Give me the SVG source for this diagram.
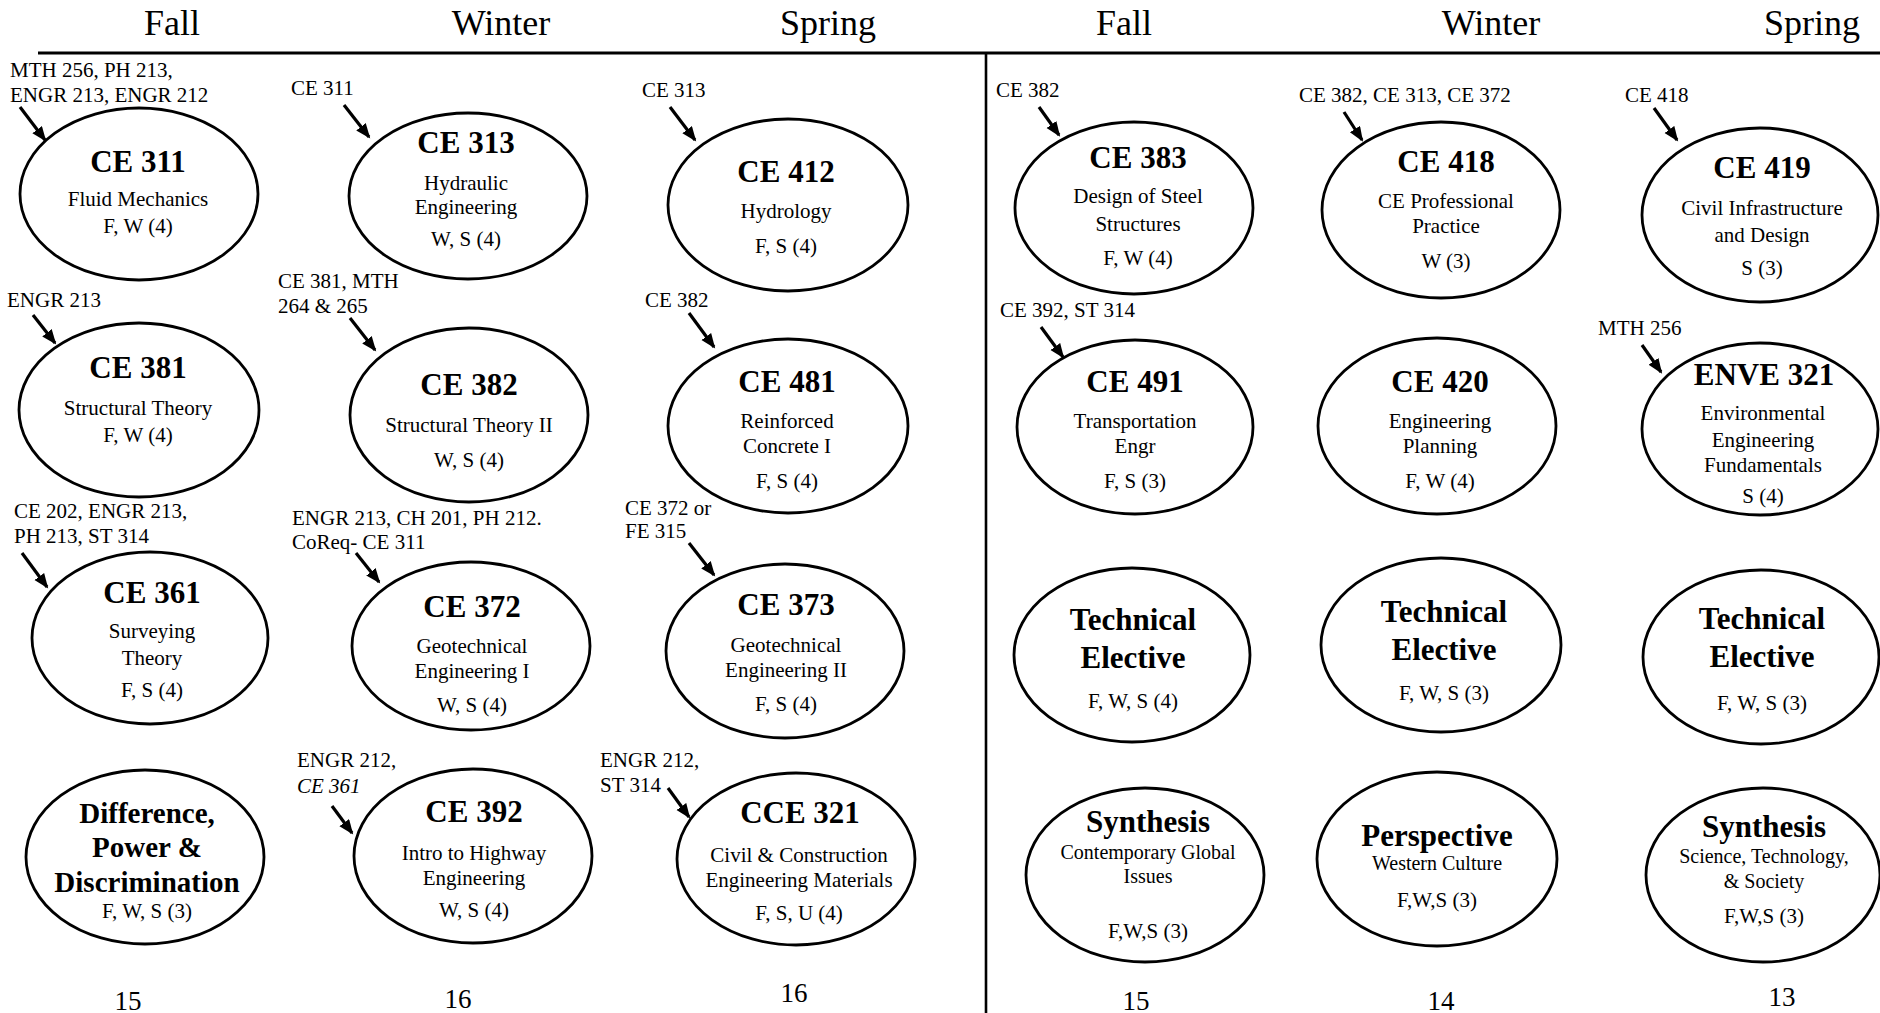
<svg xmlns="http://www.w3.org/2000/svg" width="1880" height="1013" viewBox="0 0 1880 1013">
<style>
text{font-family:"Liberation Serif","Times New Roman",serif;fill:#000}
.h{font-size:36px;text-anchor:middle}
.c{font-size:31px;font-weight:bold;text-anchor:middle}
.d{font-size:29px;font-weight:bold;text-anchor:middle}
.b{font-size:21px;text-anchor:middle}
.s{font-size:20px;text-anchor:middle}
.p{font-size:21px}
.n{font-size:27px;text-anchor:middle}
ellipse{fill:#fff;stroke:#000;stroke-width:2.8}
.a{stroke:#000;stroke-width:3.2;fill:none;marker-end:url(#ah)}
.rule{stroke:#000;stroke-width:3}
</style>
<defs>
<marker id="ah" markerUnits="userSpaceOnUse" markerWidth="16" markerHeight="14" refX="13" refY="6" orient="auto">
<path d="M0,0 L15,6 L0,12 z" fill="#000"/>
</marker>
</defs>
<rect width="1880" height="1013" fill="#fff"/>

<g id="frame">
<line class="rule" x1="38" y1="53" x2="1880" y2="53"/>
<line x1="986" y1="53" x2="986" y2="1013" stroke="#000" stroke-width="2.6"/>
<text class="h" x="172" y="35">Fall</text>
<text class="h" x="501" y="35">Winter</text>
<text class="h" x="828" y="35">Spring</text>
<text class="h" x="1124" y="35">Fall</text>
<text class="h" x="1491" y="35">Winter</text>
<text class="h" x="1812" y="35">Spring</text>
<text class="n" x="128" y="1010">15</text>
<text class="n" x="458" y="1008">16</text>
<text class="n" x="794" y="1002">16</text>
<text class="n" x="1136" y="1010">15</text>
<text class="n" x="1441" y="1010">14</text>
<text class="n" x="1782" y="1006">13</text>
</g>

<g id="prereqs">
<text class="p" x="10" y="77">MTH 256, PH 213,</text>
<text class="p" x="10" y="102">ENGR 213, ENGR 212</text>
<text class="p" x="291" y="95">CE 311</text>
<text class="p" x="642" y="97">CE 313</text>
<text class="p" x="7" y="307">ENGR 213</text>
<text class="p" x="278" y="288">CE 381, MTH</text>
<text class="p" x="278" y="313">264 &amp; 265</text>
<text class="p" x="645" y="307">CE 382</text>
<text class="p" x="14" y="518">CE 202, ENGR 213,</text>
<text class="p" x="14" y="543">PH 213, ST 314</text>
<text class="p" x="292" y="525">ENGR 213, CH 201, PH 212.</text>
<text class="p" x="292" y="549">CoReq- CE 311</text>
<text class="p" x="625" y="515">CE 372 or</text>
<text class="p" x="625" y="538">FE 315</text>
<text class="p" x="297" y="767">ENGR 212,</text>
<text class="p" x="297" y="793" font-style="italic">CE 361</text>
<text class="p" x="600" y="767">ENGR 212,</text>
<text class="p" x="600" y="792">ST 314</text>
<text class="p" x="996" y="97">CE 382</text>
<text class="p" x="1299" y="102">CE 382, CE 313, CE 372</text>
<text class="p" x="1625" y="102">CE 418</text>
<text class="p" x="1000" y="317">CE 392, ST 314</text>
<text class="p" x="1598" y="335">MTH 256</text>
</g>

<g id="connectors">
<line class="a" x1="20" y1="107" x2="45" y2="140"/>
<line class="a" x1="33" y1="315" x2="55" y2="343"/>
<line class="a" x1="22" y1="553" x2="47" y2="587"/>
<line class="a" x1="344" y1="105" x2="369" y2="137"/>
<line class="a" x1="350" y1="318" x2="375" y2="350"/>
<line class="a" x1="356" y1="553" x2="379" y2="582"/>
<line class="a" x1="332" y1="806" x2="352" y2="833"/>
<line class="a" x1="670" y1="107" x2="695" y2="140"/>
<line class="a" x1="689" y1="313" x2="714" y2="347"/>
<line class="a" x1="689" y1="543" x2="714" y2="575"/>
<line class="a" x1="668" y1="788" x2="689" y2="817"/>
<line class="a" x1="1039" y1="107" x2="1059" y2="135"/>
<line class="a" x1="1344" y1="112" x2="1362" y2="140"/>
<line class="a" x1="1654" y1="108" x2="1677" y2="140"/>
<line class="a" x1="1041" y1="327" x2="1063" y2="357"/>
<line class="a" x1="1642" y1="345" x2="1661" y2="372"/>
</g>

<g id="ce311"><ellipse cx="139" cy="194" rx="119" ry="86"/>
<text class="c" x="138" y="172">CE 311</text><text class="b" x="138" y="206">Fluid Mechanics</text><text class="b" x="138" y="233">F, W (4)</text></g>
<g id="ce381"><ellipse cx="139" cy="410" rx="120" ry="87"/>
<text class="c" x="138" y="378">CE 381</text><text class="b" x="138" y="415">Structural Theory</text><text class="b" x="138" y="442">F, W (4)</text></g>
<g id="ce361"><ellipse cx="150" cy="638" rx="118" ry="86"/>
<text class="c" x="152" y="603">CE 361</text><text class="b" x="152" y="638">Surveying</text><text class="b" x="152" y="665">Theory</text><text class="b" x="152" y="697">F, S (4)</text></g>
<g id="dpd"><ellipse cx="145" cy="857" rx="119" ry="87"/>
<text class="d" x="147" y="823">Difference,</text><text class="d" x="147" y="857">Power &amp;</text><text class="d" x="147" y="892">Discrimination</text><text class="b" x="147" y="918">F, W, S (3)</text></g>

<g id="ce313"><ellipse cx="468" cy="196" rx="119" ry="83"/>
<text class="c" x="466" y="153">CE 313</text><text class="b" x="466" y="190">Hydraulic</text><text class="b" x="466" y="214">Engineering</text><text class="b" x="466" y="246">W, S (4)</text></g>
<g id="ce382"><ellipse cx="469" cy="415" rx="119" ry="87"/>
<text class="c" x="469" y="395">CE 382</text><text class="b" x="469" y="432">Structural Theory II</text><text class="b" x="469" y="467">W, S (4)</text></g>
<g id="ce372"><ellipse cx="471" cy="646" rx="119" ry="84"/>
<text class="c" x="472" y="617">CE 372</text><text class="b" x="472" y="653">Geotechnical</text><text class="b" x="472" y="678">Engineering I</text><text class="b" x="472" y="712">W, S (4)</text></g>
<g id="ce392"><ellipse cx="473" cy="856" rx="119" ry="87"/>
<text class="c" x="474" y="822">CE 392</text><text class="b" x="474" y="860">Intro to Highway</text><text class="b" x="474" y="885">Engineering</text><text class="b" x="474" y="917">W, S (4)</text></g>

<g id="ce412"><ellipse cx="788" cy="205" rx="120" ry="86"/>
<text class="c" x="786" y="182">CE 412</text><text class="b" x="786" y="218">Hydrology</text><text class="b" x="786" y="253">F, S (4)</text></g>
<g id="ce481"><ellipse cx="788" cy="426" rx="120" ry="87"/>
<text class="c" x="787" y="392">CE 481</text><text class="b" x="787" y="428">Reinforced</text><text class="b" x="787" y="453">Concrete I</text><text class="b" x="787" y="488">F, S (4)</text></g>
<g id="ce373"><ellipse cx="785" cy="651" rx="119" ry="87"/>
<text class="c" x="786" y="615">CE 373</text><text class="b" x="786" y="652">Geotechnical</text><text class="b" x="786" y="677">Engineering II</text><text class="b" x="786" y="711">F, S (4)</text></g>
<g id="cce321"><ellipse cx="796" cy="859" rx="119" ry="86"/>
<text class="c" x="800" y="823">CCE 321</text><text class="b" x="799" y="862">Civil &amp; Construction</text><text class="b" x="799" y="887">Engineering Materials</text><text class="b" x="799" y="920">F, S, U (4)</text></g>

<g id="ce383"><ellipse cx="1134" cy="208" rx="119" ry="86"/>
<text class="c" x="1138" y="168">CE 383</text><text class="b" x="1138" y="203">Design of Steel</text><text class="b" x="1138" y="231">Structures</text><text class="b" x="1138" y="265">F, W (4)</text></g>
<g id="ce491"><ellipse cx="1135" cy="427" rx="118" ry="87"/>
<text class="c" x="1135" y="392">CE 491</text><text class="b" x="1135" y="428">Transportation</text><text class="b" x="1135" y="453">Engr</text><text class="b" x="1135" y="488">F, S (3)</text></g>
<g id="te1"><ellipse cx="1132" cy="655" rx="118" ry="87"/>
<text class="c" x="1133" y="630">Technical</text><text class="c" x="1133" y="668">Elective</text><text class="b" x="1133" y="708">F, W, S (4)</text></g>
<g id="syn1"><ellipse cx="1145" cy="875" rx="119" ry="87"/>
<text class="c" x="1148" y="832">Synthesis</text><text class="s" x="1148" y="859">Contemporary Global</text><text class="s" x="1148" y="883">Issues</text><text class="b" x="1148" y="938">F,W,S (3)</text></g>

<g id="ce418"><ellipse cx="1441" cy="210" rx="119" ry="88"/>
<text class="c" x="1446" y="172">CE 418</text><text class="b" x="1446" y="208">CE Professional</text><text class="b" x="1446" y="233">Practice</text><text class="b" x="1446" y="268">W (3)</text></g>
<g id="ce420"><ellipse cx="1437" cy="426" rx="119" ry="88"/>
<text class="c" x="1440" y="392">CE 420</text><text class="b" x="1440" y="428">Engineering</text><text class="b" x="1440" y="453">Planning</text><text class="b" x="1440" y="488">F, W (4)</text></g>
<g id="te2"><ellipse cx="1441" cy="645" rx="120" ry="87"/>
<text class="c" x="1444" y="622">Technical</text><text class="c" x="1444" y="660">Elective</text><text class="b" x="1444" y="700">F, W, S (3)</text></g>
<g id="persp"><ellipse cx="1437" cy="859" rx="120" ry="87"/>
<text class="c" x="1437" y="846">Perspective</text><text class="s" x="1437" y="870">Western Culture</text><text class="b" x="1437" y="907">F,W,S (3)</text></g>

<g id="ce419"><ellipse cx="1760" cy="215" rx="118" ry="87"/>
<text class="c" x="1762" y="178">CE 419</text><text class="b" x="1762" y="215">Civil Infrastructure</text><text class="b" x="1762" y="242">and Design</text><text class="b" x="1762" y="275">S (3)</text></g>
<g id="enve321"><ellipse cx="1760" cy="429" rx="118" ry="86"/>
<text class="c" x="1764" y="385">ENVE 321</text><text class="b" x="1763" y="420">Environmental</text><text class="b" x="1763" y="447">Engineering</text><text class="b" x="1763" y="472">Fundamentals</text><text class="b" x="1763" y="503">S (4)</text></g>
<g id="te3"><ellipse cx="1761" cy="657" rx="118" ry="87"/>
<text class="c" x="1762" y="629">Technical</text><text class="c" x="1762" y="667">Elective</text><text class="b" x="1762" y="710">F, W, S (3)</text></g>
<g id="syn3"><ellipse cx="1763" cy="875" rx="117" ry="87"/>
<text class="c" x="1764" y="837">Synthesis</text><text class="s" x="1764" y="863">Science, Technology,</text><text class="s" x="1764" y="888">&amp; Society</text><text class="b" x="1764" y="923">F,W,S (3)</text></g>
</svg>
